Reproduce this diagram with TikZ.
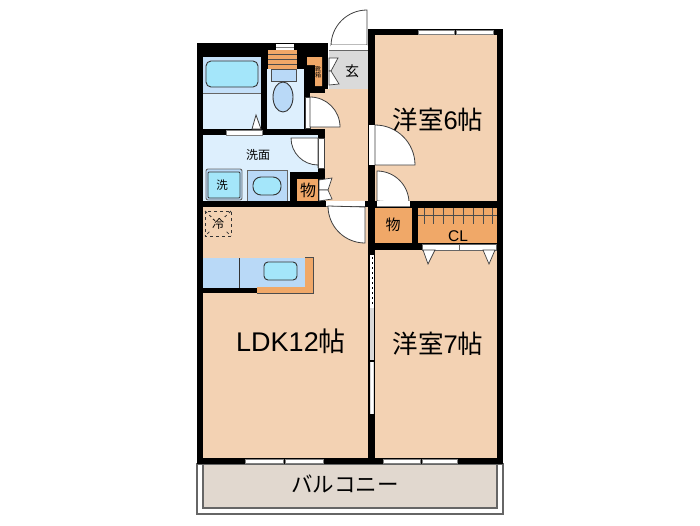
\documentclass[tikz,border=0pt]{standalone}
\usepackage{fontspec}
\setmainfont{Liberation Sans}
\newfontfamily\jp{Noto Sans CJK JP}
\definecolor{floorc}{HTML}{F3D2B3}
\definecolor{wetc}{HTML}{DDEFFD}
\definecolor{bluec}{HTML}{B9D9F7}
\definecolor{tubc}{HTML}{A4E6FA}
\definecolor{orangec}{HTML}{F0A868}
\definecolor{greyc}{HTML}{DADADA}
\definecolor{balc}{HTML}{E1D8CF}
\tikzset{
  leaf/.style={fill=white,draw=black!75,line width=0.8pt},
  sash/.style={fill=white,draw=black!50,line width=1pt},
  fixture/.style={draw=black!80,line width=0.9pt,rounded corners=4pt},
}
\begin{document}
\begin{tikzpicture}[x=1pt,y=-1pt]
\useasboundingbox (0,0) rectangle (700,525);
\draw[black!60,line width=1.2pt,fill=white] (197,464) rectangle (503,514);
\draw[black!60,line width=1.2pt,fill=balc] (203,464) rectangle (497,508);
\fill[black] (197,43) rectangle (328,207);
\fill[black] (197,201) rectangle (375,464);
\fill[black] (368,29) rectangle (503,464);
\fill[black] (197,458) rectangle (503,464);
\fill[floorc] (375,35) rectangle (497,201);
\fill[floorc] (375,250) rectangle (497,458);
\fill[floorc] (203,207) rectangle (368,458);
\fill[floorc] (325,89) rectangle (368,201);
\fill[floorc] (310,93) rectangle (325,129);
\fill[greyc] (329,50) rectangle (368,89);
\fill[wetc] (203,57) rectangle (261,129);
\fill[bluec!70!wetc] (203,57) rectangle (261,93);
\draw[black!60,line width=0.6pt] (203,93) -- (261,93);
\fill[wetc] (267,69) rectangle (304,129);
\fill[wetc] (203,135) rectangle (318,201);
\fill[black] (290,172) rectangle (324,201);
\fill[black] (318,130) rectangle (325,172);
\fill[orangec] (297,179) rectangle (318,201);
\fill[orangec] (375,208) rectangle (412,243);
\fill[orangec] (418,208) rectangle (497,243);
\fill[orangec] (307,57) -- (322,57) -- (322,86) -- (315,86) -- (315,65) -- (307,65) -- cycle;
\fill[white] (276,44) rectangle (294,50);
\draw[black!50,line width=0.5pt] (276,47) -- (294,47);
\fill[orangec] (268,50) rectangle (297,69);
\foreach \y in {54,59,64} \draw[black!70,line width=0.8pt] (268,\y) -- (297,\y);
\draw[black!70,line width=0.8pt,fill=bluec] (271,69) rectangle (296,81);
\draw[black!80,line width=0.9pt,fill=bluec] (283,97) ellipse [x radius=10,y radius=15];
\draw[fixture,fill=tubc,rounded corners=5pt] (206,61) rectangle (258,87);
\draw[sash] (226,130) rectangle (262,135);
\draw[leaf] (252,129) -- (256,115) -- (261,129) -- cycle;
\draw[leaf] (305,97) rectangle (310,128);
\draw[leaf] (310,97) arc[start angle=-90,end angle=0,radius=30] -- (310,127) -- cycle;
\draw[leaf] (318,138) rectangle (324,168);
\draw[leaf] (318,168) -- (318,138) -- (291,138) arc[start angle=180,end angle=90,radius=27] -- cycle;
\draw[leaf] (331,45) -- (367,45) -- (367,10) arc[start angle=-90,end angle=-180,radius=36] -- cycle;
\fill[white] (331,45) rectangle (367,50);
\draw[black!60,line width=0.6pt] (329,50) -- (368,50);
\draw[leaf,line width=0.7pt] (329,58) -- (338,58) -- (331,71) -- (329,71) -- cycle;
\draw[leaf,line width=0.7pt] (329,71) -- (331,71) -- (339,84) -- (329,85) -- cycle;
\draw[leaf,line width=0.7pt] (319,180) -- (332,178) -- (328,190) -- (319,190) -- cycle;
\draw[leaf,line width=0.7pt] (319,190) -- (328,190) -- (332,199) -- (319,201) -- cycle;
\draw[fixture,rounded corners=2pt,fill=bluec,draw=black!60] (206,169) rectangle (242,200);
\draw[fixture,rounded corners=1pt,fill=tubc] (208,172) rectangle (240,198);
\fill[bluec] (247,170) rectangle (287,201);
\draw[black!60,line width=0.6pt] (247,201) -- (247,170) -- (287,170) -- (287,201);
\draw[fixture,fill=tubc,rounded corners=8pt] (253,177) rectangle (281,195);
\fill[white] (326,201) rectangle (365,206);
\draw[black!60,line width=0.6pt] (326,206) -- (365,206);
\draw[leaf] (365,207) -- (365,243) arc[start angle=90,end angle=180,radius=37] -- cycle;
\fill[white] (369,125) rectangle (375,165);
\draw[leaf] (375,125) arc[start angle=-90,end angle=0,radius=40] -- (375,165) -- cycle;
\draw[leaf] (377,201) -- (377,171) arc[start angle=-90,end angle=0,radius=32] -- cycle;
\fill[white] (377,201) rectangle (410,206);
\draw[black!50,line width=0.5pt] (377,206) -- (410,206);
\fill[white] (370,255) rectangle (374,308);
\foreach \y in {257,262,...,304} \draw[black,line width=0.9pt] (372,\y) -- (372,\y+2);
\fill[black!15] (369.5,308) rectangle (373.5,360);
\fill[black!15] (369.5,362) rectangle (373.5,414);
\fill[white] (370.5,362) rectangle (372.5,414);
\fill[bluec] (203,258) rectangle (305,288);
\draw[black!80,line width=0.7pt] (239,258) -- (239,288);
\draw[fixture,fill=tubc] (264,262) rectangle (297,280);
\fill[orangec] (305,257) -- (313,257) -- (313,293) -- (257,293) -- (257,287) -- (305,287) -- cycle;
\draw[black!70,line width=0.5pt] (305,257) -- (313,257) -- (313,293) -- (257,293);
\fill[black] (203,288) rectangle (257,293);
\draw[black!80,dashed,line width=1pt] (205,211) rectangle (231,236);
\draw[black!80,dashed,line width=0.8pt] (205,211) -- (231,236) (231,211) -- (205,236);
\fill[floorc] (211,217) rectangle (225,231);
\foreach \x in {424,433,443,453,463,473,483,492}
  \draw[black!70,line width=0.7pt] (\x,208) -- (\x,224);
\draw[black!70,line width=0.7pt] (418,215) -- (497,215);
\fill[white] (422,244) rectangle (496,250);
\draw[black!60,line width=0.6pt] (422,244) rectangle (496,250) (459,244) -- (459,250);
\draw[leaf,line width=0.7pt] (423,250) -- (435,250) -- (428,264) -- cycle;
\draw[leaf,line width=0.7pt] (483,250) -- (495,250) -- (489,264) -- cycle;
\foreach \a/\b in {418/454,456/493} \draw[sash] (\a,30) rectangle (\b,34);
\foreach \a/\b in {245/283,285/323,383/420,422/457} \draw[sash] (\a,459) rectangle (\b,463);
\node (washroom) at (258,155) {\jp\fontsize{12}{12}\selectfont 洗面};
\node (washer) at (222,185) {\jp\fontsize{11.5}{12}\selectfont 洗};
\node (closeta) at (308,190) {\jp\fontsize{16}{16}\selectfont 物};
\node (closetb) at (393,225) {\jp\fontsize{15}{15}\selectfont 物};
\node (entry) at (352,71) {\jp\fontsize{14}{14}\selectfont 玄};
\node[inner sep=0pt,align=center,font=\jp\fontsize{6}{6.5}\selectfont] (shoes) at (318,72) {靴\\箱};
\node (fridge) at (218,224) {\jp\fontsize{12}{12}\selectfont 冷};
\node (cl) at (458,236) {\fontsize{15.5}{16}\selectfont CL};
\node (roomsix) at (438,120) {\fontsize{25.5}{26}\selectfont\jp 洋室\rmfamily 6\jp 帖};
\node (roomseven) at (438,344) {\fontsize{25.5}{26}\selectfont\jp 洋室\rmfamily 7\jp 帖};
\node (ldk) at (291,341) {\fontsize{27}{27}\selectfont LDK12\jp 帖};
\node (balcony) at (345,484) {\jp\fontsize{21.5}{22}\selectfont バルコニー};
\end{tikzpicture}
\end{document}
